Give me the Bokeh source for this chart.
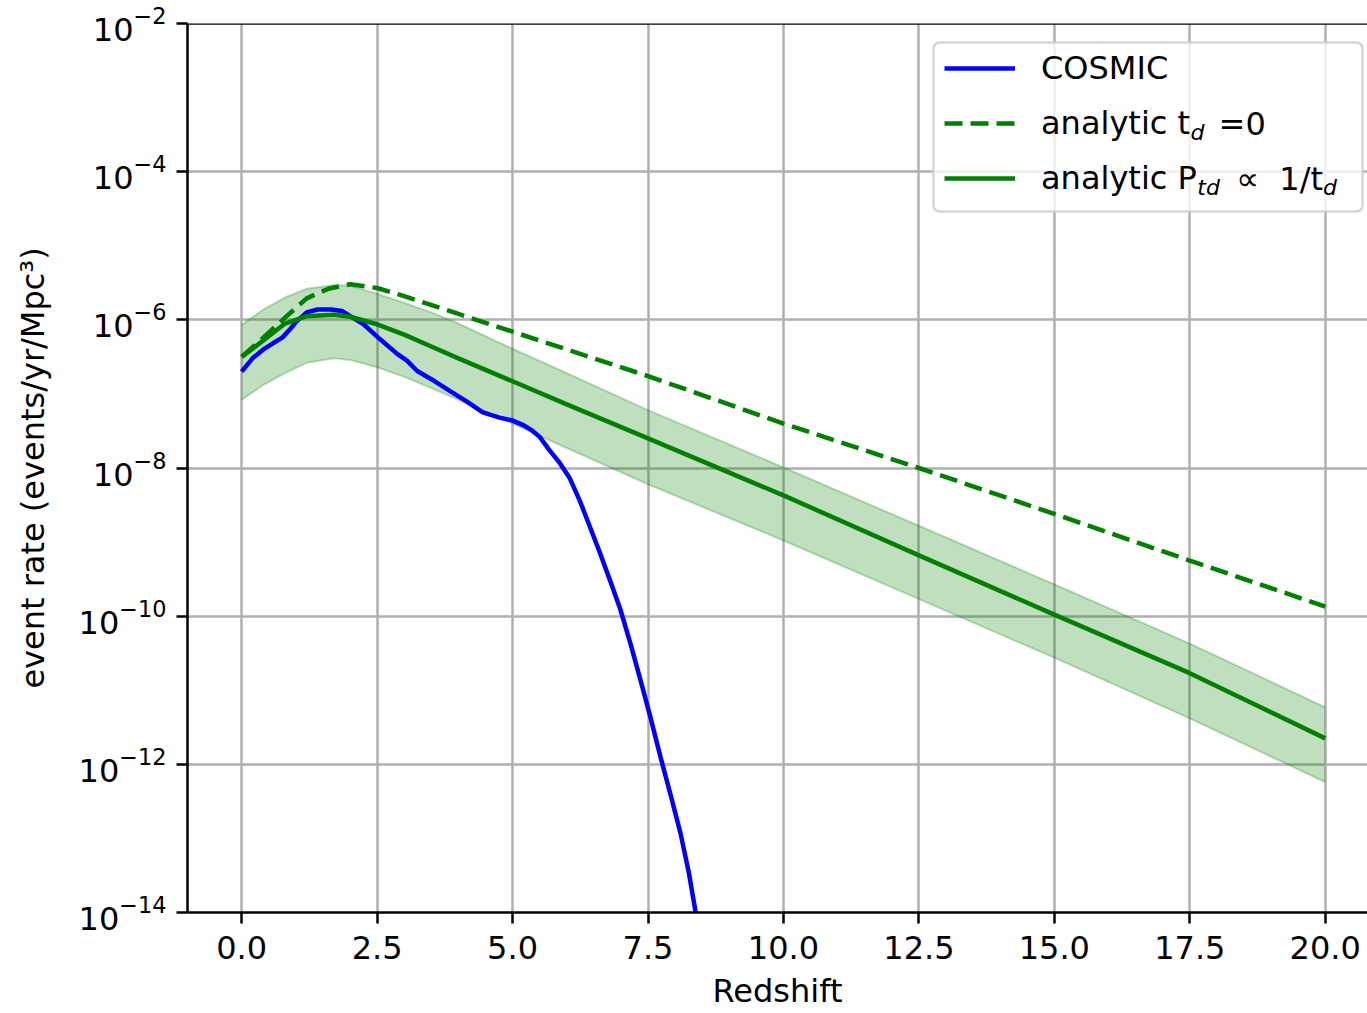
from bokeh.plotting import figure
from bokeh.models import (Range1d, FixedTicker, LogTickFormatter, NumeralTickFormatter,
                          Legend, LegendItem, Label, Span, BoxAnnotation)
from bokeh.embed import file_html
from bokeh.resources import INLINE

# ---------------- data ----------------
z_analytic = [0.0, 0.4, 0.8, 1.2, 1.7, 2.0, 2.5, 3.0, 3.5, 4.0, 5.0, 6.0, 7.5,
              10.0, 12.5, 15.0, 17.5, 20.0]
rate_ptd = [3.16e-7, 5.25e-7, 8.91e-7, 1.12e-6, 1.17e-6, 1.10e-6, 8.71e-7, 6.31e-7,
            4.37e-7, 3.02e-7, 1.48e-7, 7.24e-8, 2.51e-8, 4.27e-9, 6.61e-10, 1.05e-10,
            1.70e-11, 2.24e-12]
rate_ptd_upper = [8.51e-7, 1.38e-6, 2.00e-6, 2.63e-6, 2.95e-6, 2.88e-6, 2.24e-6, 1.70e-6,
                  1.26e-6, 8.91e-7, 4.07e-7, 1.91e-7, 6.03e-8, 1.02e-8, 1.66e-9, 2.69e-10,
                  4.27e-11, 5.89e-12]
rate_ptd_lower = [8.32e-8, 1.32e-7, 1.91e-7, 2.63e-7, 3.02e-7, 2.88e-7, 2.29e-7, 1.70e-7,
                  1.20e-7, 8.32e-8, 3.98e-8, 1.86e-8, 6.03e-9, 1.05e-9, 1.70e-10, 2.75e-11,
                  4.17e-12, 5.75e-13]

z_td0 = [0.0, 0.4, 0.8, 1.2, 1.6, 2.0, 2.5, 3.0, 4.0, 5.0, 6.0, 7.5, 10.0, 12.5,
         15.0, 17.5, 20.0]
rate_td0 = [3.16e-7, 5.75e-7, 1.07e-6, 1.95e-6, 2.63e-6, 3.02e-6, 2.69e-6, 2.09e-6,
            1.20e-6, 6.92e-7, 3.98e-7, 1.74e-7, 3.98e-8, 1.00e-8, 2.40e-9, 5.62e-10,
            1.35e-10]

z_cosmic = [0.0, 0.2, 0.4, 0.57, 0.75, 0.9, 1.0, 1.2, 1.4, 1.65, 1.85, 2.05, 2.25, 2.55,
            2.87, 3.05, 3.24, 3.5, 3.84, 4.15, 4.45, 4.76, 5.0, 5.2, 5.37, 5.5, 5.68,
            5.87, 6.05, 6.24, 6.42, 6.61, 6.8, 6.99, 7.18, 7.36, 7.55, 7.73, 7.92, 8.10,
            8.25, 8.38, 8.55]
rate_cosmic = [2.00e-7, 3.02e-7, 3.98e-7, 4.79e-7, 5.75e-7, 7.59e-7, 9.33e-7, 1.26e-6,
               1.38e-6, 1.38e-6, 1.32e-6, 1.07e-6, 8.71e-7, 5.50e-7, 3.47e-7, 2.82e-7,
               2.04e-7, 1.58e-7, 1.10e-7, 7.94e-8, 5.62e-8, 4.79e-8, 4.37e-8, 3.80e-8,
               3.16e-8, 2.63e-8, 1.74e-8, 1.17e-8, 7.41e-9, 3.63e-9, 1.66e-9, 7.24e-10,
               3.02e-10, 1.23e-10, 4.17e-11, 1.38e-11, 4.17e-12, 1.26e-12, 3.80e-13,
               1.17e-13, 3.55e-14, 1.00e-14, 1.78e-15]

x_ticks = [0.0, 2.5, 5.0, 7.5, 10.0, 12.5, 15.0, 17.5, 20.0]
y_ticks = [1e-14, 1e-12, 1e-10, 1e-8, 1e-6, 1e-4, 1e-2]

FONT = "DejaVu Sans"
FS = "32px"
GREEN = "#008000"
BLUE = "#0000ff"

# ---------------- figure ----------------
p = figure(width=1367, height=1013, x_range=Range1d(-1.0, 20.78),
           y_range=Range1d(1e-14, 1e-2), y_axis_type="log",
           output_backend="svg", toolbar_location=None,
           min_border_left=187, min_border_right=0, min_border_top=23,
           min_border_bottom=101)
p.outline_line_color = None
p.background_fill_color = "white"
p.border_fill_color = "white"

# grid
for g in (p.xgrid, p.ygrid):
    g.grid_line_color = "#b0b0b0"
    g.grid_line_width = 2.5

# axes
p.xaxis.ticker = FixedTicker(ticks=x_ticks, minor_ticks=[])
p.xaxis.formatter = NumeralTickFormatter(format="0.0")
p.yaxis.ticker = FixedTicker(ticks=y_ticks, minor_ticks=[])
p.yaxis.formatter = LogTickFormatter()
for ax in (p.xaxis, p.yaxis):
    ax.axis_line_color = "black"
    ax.axis_line_width = 2.5
    ax.major_tick_line_width = 2.5
    ax.major_tick_out = 11
    ax.major_tick_in = 0
    ax.minor_tick_line_color = None
    ax.major_label_text_font = FONT
    ax.major_label_text_font_size = FS
    ax.major_label_text_color = "black"
    ax.major_label_standoff = 10
    ax.axis_label_text_font = FONT
    ax.axis_label_text_font_size = FS
    ax.axis_label_text_font_style = "normal"
    ax.axis_label_text_color = "black"
p.xaxis.major_label_standoff = 12
p.xaxis.axis_label = "Redshift"
p.yaxis.axis_label = "event rate (events/yr/Mpc³)"
p.xaxis.axis_label_standoff = 10
p.yaxis.axis_label_standoff = 24

# top spine
p.add_layout(Span(location=1e-2, dimension="width", line_color="black", line_width=2.5))

# band
p.varea(x=z_analytic, y1=rate_ptd_lower, y2=rate_ptd_upper, fill_color=GREEN, fill_alpha=0.25)
p.line(z_analytic, rate_ptd_upper, line_color=GREEN, line_alpha=0.25, line_width=2)
p.line(z_analytic, rate_ptd_lower, line_color=GREEN, line_alpha=0.25, line_width=2)

r_cosmic = p.line(z_cosmic, rate_cosmic, line_color=BLUE, line_width=4.5)
r_td0 = p.line(z_td0, rate_td0, line_color=GREEN, line_width=4.5, line_dash="18 8")
r_ptd = p.line(z_analytic, rate_ptd, line_color=GREEN, line_width=4.5)

# ---------------- legend ----------------
# background box (frame-relative screen units, y measured from the frame bottom)
box_left, box_w, box_top, box_h = 746, 429, 870, 169
p.add_layout(BoxAnnotation(left=box_left, right=box_left + box_w,
                           top=box_top, bottom=box_top - box_h,
                           left_units="screen", right_units="screen",
                           top_units="screen", bottom_units="screen",
                           fill_color="white", fill_alpha=0.8,
                           line_color="#cccccc", line_alpha=0.8, line_width=2.5,
                           border_radius=6))

pad, gw, gh, sp, stand, lw = 9, 71, 44, 11, 26, 310
leg_h = 2 * pad + 3 * gh + 2 * sp
leg_left = 748
leg_top = 875
legend = Legend(items=[LegendItem(label="COSMIC", renderers=[r_cosmic]),
                       LegendItem(label="analytic t", renderers=[r_td0]),
                       LegendItem(label="analytic P", renderers=[r_ptd])],
                location=(leg_left, leg_top - leg_h),
                padding=pad, spacing=sp, glyph_width=gw, glyph_height=gh,
                label_height=gh, label_width=lw, label_standoff=stand, margin=0,
                label_text_font=FONT, label_text_font_size=FS,
                label_text_color="black",
                border_line_color="#cccccc", border_line_alpha=0.0,
                background_fill_alpha=0.0)
p.add_layout(legend)

text_x0 = leg_left + pad + gw + stand
row_y = [leg_top - pad - gh / 2 - i * (gh + sp) for i in range(3)]
em = 32.0


def piece(x, y, text, italic=False, size=FS):
    p.add_layout(Label(x=x, y=y, x_units="screen", y_units="screen", text=text,
                       text_font=FONT, text_font_size=size,
                       text_font_style="italic" if italic else "normal",
                       text_baseline="middle", text_align="left", text_color="black",
                       level="overlay"))


sub = "22px"
# row 2: analytic t_d =0
x = text_x0 + 4.66 * em
piece(x, row_y[1] - 9, "d", italic=True, size=sub)
piece(x + 14 + 14, row_y[1], "=0")
# row 3: analytic P_td ∝ 1/t_d
x = text_x0 + 4.87 * em
piece(x, row_y[2] - 9, "td", italic=True, size=sub)
x += 23 + 16
piece(x, row_y[2], "∝")
x += 27 + 16
piece(x, row_y[2], "1/t")
x += 1.365 * em
piece(x, row_y[2] - 9, "d", italic=True, size=sub)

open("out.html", "w").write(file_html(p, INLINE))
